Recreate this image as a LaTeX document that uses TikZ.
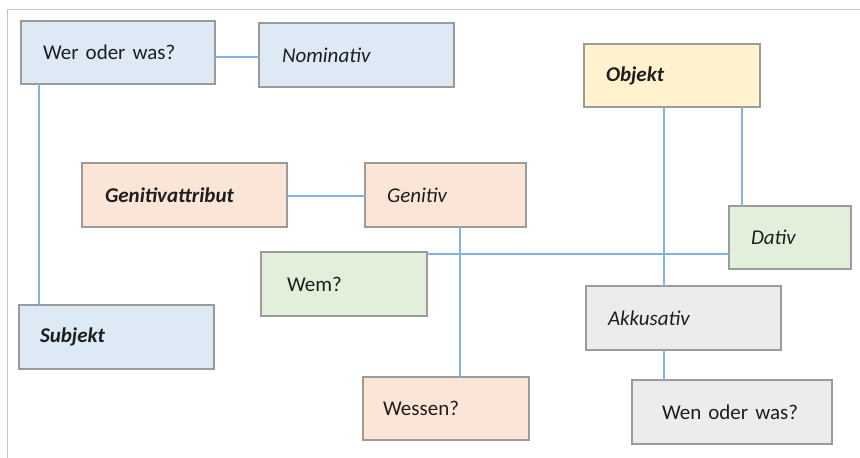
\documentclass[tikz,border=0pt]{standalone}
\usepackage{fontspec}
\setmainfont{Carlito}
\definecolor{cblue}{RGB}{221,233,245}
\definecolor{cpeach}{RGB}{250,229,215}
\definecolor{cyellow}{RGB}{255,242,204}
\definecolor{cgreen}{RGB}{226,239,218}
\definecolor{cgray}{RGB}{236,236,236}
\definecolor{cborder}{RGB}{155,155,155}
\definecolor{cline}{RGB}{130,178,232}
\definecolor{cframe}{RGB}{195,195,195}
\definecolor{ctext}{RGB}{30,30,30}
\tikzset{
  bx/.style={draw=cborder, line width=1.3pt, rectangle, inner ysep=0pt, outer sep=0pt, align=left,
    text=ctext, font=\fontsize{21}{23}\selectfont, anchor=center},
  conn/.style={draw=cline, line width=1.7pt},
}
\begin{document}
\begin{tikzpicture}[x=1pt,y=-1pt]
\useasboundingbox (0,0) rectangle (860,458);
\draw[cframe, line width=1pt] (7.5,458) -- (7.5,9.5) -- (860,9.5);
% connectors (drawn first, boxes on top)
\path (118,52.5) coordinate (werc);
% boxes
\node[bx, fill=cblue, inner xsep=22pt, text width=150pt, minimum height=63pt] (wer) at (118,52.5) {Wer oder was?};
\node[bx, fill=cblue, inner xsep=23pt, text width=149pt, minimum height=64pt] (nom) at (356.5,55) {\itshape Nominativ};
\node[bx, fill=cpeach, inner xsep=23pt, text width=159pt, minimum height=64pt] (gatt) at (184.5,195) {\bfseries\itshape Genitivattribut};
\node[bx, fill=cpeach, inner xsep=22pt, text width=117pt, minimum height=64pt] (gen) at (445.5,195) {\itshape Genitiv};
\node[bx, fill=cyellow, inner xsep=22pt, text width=132pt, minimum height=63pt] (obj) at (672,75.5) {\bfseries\itshape Objekt};
\node[bx, fill=cgreen, inner xsep=22pt, text width=78pt, minimum height=63pt] (dat) at (790,237.5) {\itshape Dativ};
\node[bx, fill=cgreen, inner xsep=26pt, text width=114pt, minimum height=64pt] (wem) at (344,284) {Wem?};
\node[bx, fill=cblue, inner xsep=21pt, text width=153pt, minimum height=64pt] (subj) at (116.5,337) {\bfseries\itshape Subjekt};
\node[bx, fill=cpeach, inner xsep=20pt, text width=126pt, minimum height=63pt] (wes) at (446,408.5) {Wessen?};
\node[bx, fill=cgray, inner xsep=22pt, text width=151pt, minimum height=64pt] (akk) at (683.5,318) {\itshape Akkusativ};
\node[bx, fill=cgray, inner xsep=30pt, text width=140pt, minimum height=64pt] (wen) at (732,412) {Wen oder was?};
% connectors
\coordinate (wemr) at ([yshift=-2pt]wem.north east);
\coordinate (wers) at ([xshift=18pt]wer.south west);
\coordinate (gens) at ([xshift=14.5pt]gen.south);
\coordinate (objl) at ([xshift=-8pt]obj.south);
\coordinate (objr) at ([xshift=70pt]obj.south);
\coordinate (nomw) at ([yshift=-2pt]nom.west);
\coordinate (gatte) at ([yshift=-1pt]gatt.east);
\draw[conn] (nomw -| wer.east) -- (nomw);
\draw[conn] (wers) -- (wers |- subj.north);
\draw[conn] (gatte) -- (gatte -| gen.west);
\draw[conn] (gens) -- (gens |- wes.north);
\draw[conn] (objl) -- (objl |- akk.north);
\draw[conn] (objl |- akk.south) -- (objl |- wen.north);
\draw[conn] (objr) -- (objr |- dat.north);
\draw[conn] (wemr) -- (wemr -| dat.west);
\end{tikzpicture}
\end{document}
